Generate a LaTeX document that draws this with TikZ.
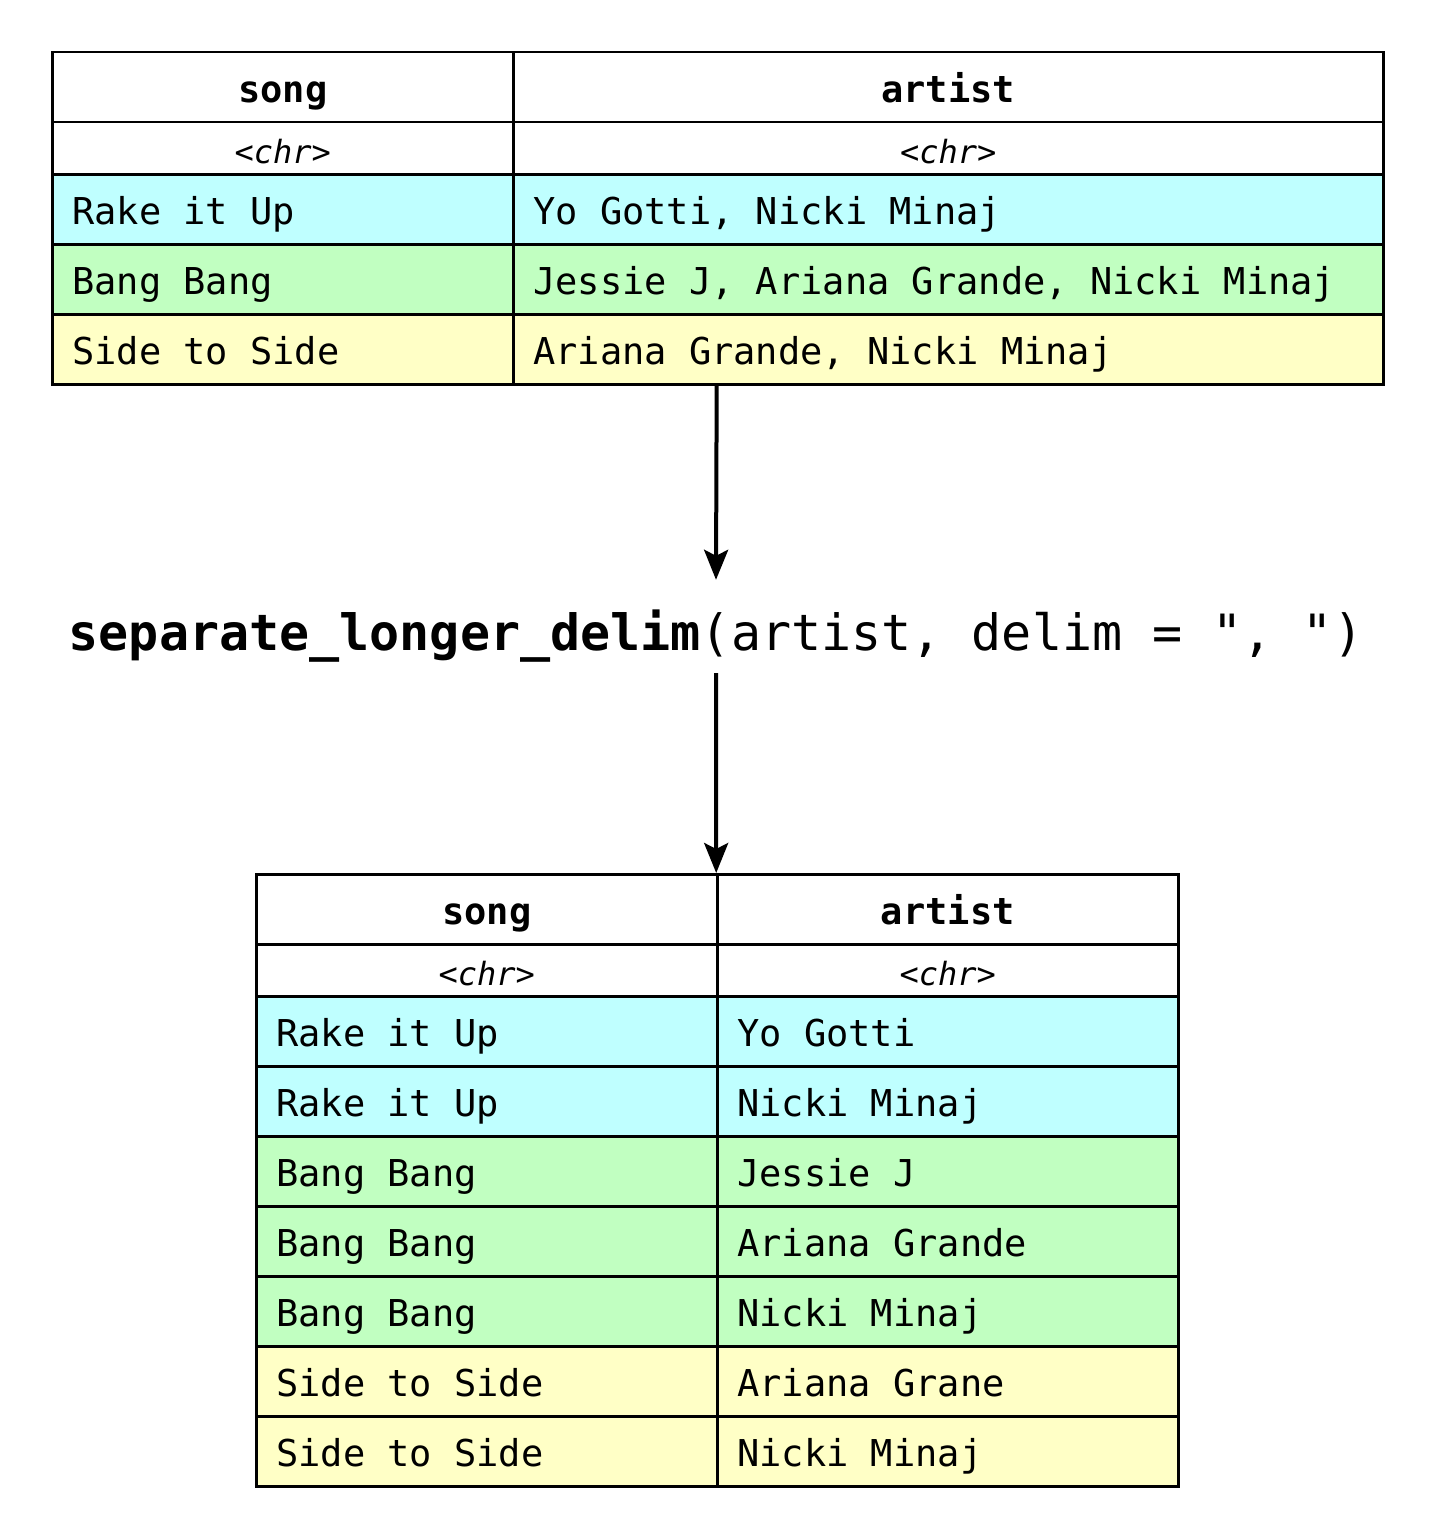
\documentclass[tikz,border=0pt]{standalone}
\usepackage{fontspec}
\setmonofont{DejaVu Sans Mono}
\usetikzlibrary{arrows.meta}
\definecolor{cyanrow}{RGB}{191,255,255}
\definecolor{greenrow}{RGB}{193,255,193}
\definecolor{yellowrow}{RGB}{255,255,198}
\newcommand{\cellfont}{\ttfamily\fontsize{37}{44}\selectfont}
\newcommand{\typefont}{\ttfamily\itshape\fontsize{32}{38}\selectfont}
\newcommand{\fnfont}{\ttfamily\fontsize{50}{58}\selectfont}

\begin{document}
\begin{tikzpicture}[
    x=1pt, y=-1pt,
    cell/.style={draw, line width=2.5pt, inner xsep=20pt, inner ysep=0pt,
        anchor=north west, text height=30pt, text depth=0pt, font=\cellfont},
    head/.style={cell, align=center, font=\bfseries\cellfont, minimum height=70pt},
    typerow/.style={cell, align=center, font=\typefont, minimum height=52pt},
    datarow/.style={cell, align=flush left, minimum height=70pt},
    frame/.style={inner sep=0pt, anchor=north west},
    pipe/.style={line width=4pt, -{Stealth[length=30pt, width=24pt, inset=6pt]}}
    ]
    \useasboundingbox (0,0) rectangle (1433,1536);
    % frames of the two tables
    \node[frame, minimum width=1331pt, minimum height=332pt] (tab1) at (51,51) {};
    \node[frame, minimum width=922pt, minimum height=612pt] (tab2) at (255,873) {};
    % top table
    \node[head, text width=421pt] (ts) at (51,51) {song};
    \node[head, text width=830pt] (ta) at (512,51) {artist};
    \node[typerow, text width=421pt] (tst) at (51,121) {<chr>};
    \node[typerow, text width=830pt] (tat) at (512,121) {<chr>};
    \foreach \song/\artist/\col [count=\i] in {
        Rake it Up/{Yo Gotti, Nicki Minaj}/cyanrow,
        Bang Bang/{Jessie J, Ariana Grande, Nicki Minaj}/greenrow,
        Side to Side/{Ariana Grande, Nicki Minaj}/yellowrow}{
        \pgfmathsetmacro{\ry}{173+70*(\i-1)}
        \node[datarow, fill=\col, text width=421pt] (ts\i) at (51,\ry) {\song};
        \node[datarow, fill=\col, text width=830pt] (ta\i) at (512,\ry) {\artist};
    }
    % function call
    \node[font=\fnfont, inner sep=0pt, text height=70pt, text depth=23pt] (fn)
        at (716,626.5) {\textbf{separate\_longer\_delim}(artist, delim = ", ")};
    % bottom table
    \node[head, text width=421pt] (bs) at (255,873) {song};
    \node[head, text width=421pt] (ba) at (716,873) {artist};
    \node[typerow, text width=421pt] (bst) at (255,943) {<chr>};
    \node[typerow, text width=421pt] (bat) at (716,943) {<chr>};
    \foreach \song/\artist/\col [count=\i] in {
        Rake it Up/Yo Gotti/cyanrow,
        Rake it Up/Nicki Minaj/cyanrow,
        Bang Bang/Jessie J/greenrow,
        Bang Bang/Ariana Grande/greenrow,
        Bang Bang/Nicki Minaj/greenrow,
        Side to Side/Ariana Grane/yellowrow,
        Side to Side/Nicki Minaj/yellowrow}{
        \pgfmathsetmacro{\ry}{995+70*(\i-1)}
        \node[datarow, fill=\col, text width=421pt] (bs\i) at (255,\ry) {\song};
        \node[datarow, fill=\col, text width=421pt] (ba\i) at (716,\ry) {\artist};
    }
    % arrows
    \draw[pipe] (tab1.south) -- (fn.north);
    \draw[pipe] (fn.south) -- (tab2.north);
\end{tikzpicture}
\end{document}
